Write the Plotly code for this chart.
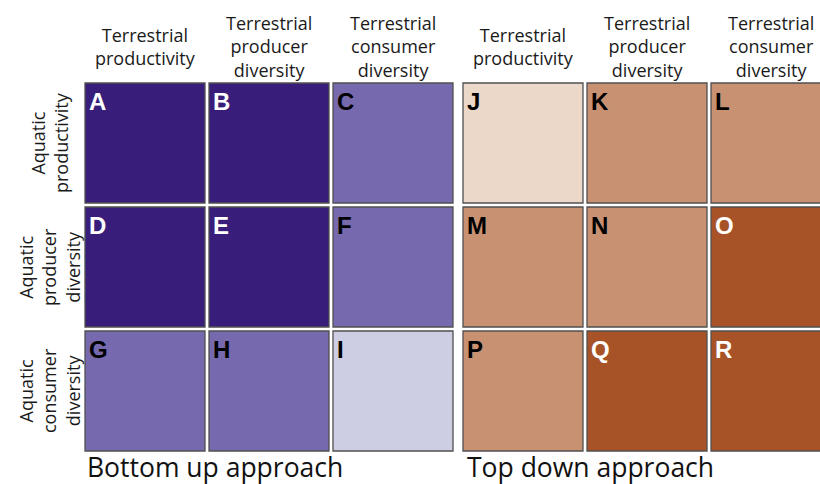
import plotly.graph_objects as go

# ---- data ----
col_labels = ["Terrestrial<br>productivity", "Terrestrial<br>producer<br>diversity", "Terrestrial<br>consumer<br>diversity"]
row_labels = ["Aquatic<br>productivity", "Aquatic<br>producer<br>diversity", "Aquatic<br>consumer<br>diversity"]
# effect strength levels (1 = weak, 2 = medium, 3 = strong); rows top->bottom
bottom_up_levels = [[3, 3, 2],
                    [3, 3, 2],
                    [2, 2, 1]]
top_down_levels = [[1, 2, 2],
                   [2, 2, 3],
                   [2, 3, 3]]
bottom_up_letters = [["A", "B", "C"], ["D", "E", "F"], ["G", "H", "I"]]
top_down_letters = [["J", "K", "L"], ["M", "N", "O"], ["P", "Q", "R"]]
panel_titles = ["Bottom up approach", "Top down approach"]

purple_scale = ["#cdcee3", "#7669ad", "#381e7a"]
brown_scale = ["#ebd8c8", "#c89172", "#a85327"]

W, H = 820, 484
pitch = 124.0
gap = 4
fig = go.Figure()

def scale(cols):
    return [[0, cols[0]], [0.5, cols[1]], [1, cols[2]]]

ytop_px, ybot_px = 81, 453
ydom = [1 - ybot_px / H, 1 - ytop_px / H]

panels = [
    dict(levels=bottom_up_levels, letters=bottom_up_letters, cols=purple_scale, x0=83, xa="x", ya="y", axn="xaxis", ayn="yaxis"),
    dict(levels=top_down_levels, letters=top_down_letters, cols=brown_scale, x0=461, xa="x2", ya="y2", axn="xaxis2", ayn="yaxis2"),
]

for p in panels:
    fig.add_trace(go.Heatmap(
        z=p["levels"], x=[0, 1, 2], y=[0, 1, 2],
        colorscale=scale(p["cols"]), zmin=1, zmax=3, showscale=False,
        xgap=gap, ygap=gap, hoverinfo="skip", xaxis=p["xa"], yaxis=p["ya"]))
    x1px = min(p["x0"] + 3 * pitch, W)
    xr_end = -0.5 + (x1px - p["x0"]) / pitch
    fig.update_layout(**{
        p["axn"]: dict(domain=[p["x0"] / W, x1px / W], range=[-0.5, xr_end], visible=False, fixedrange=True),
        p["ayn"]: dict(domain=ydom, range=[2.5, -0.5], visible=False, fixedrange=True),
    })
    g = (gap / 2) / pitch
    for i in range(3):
        for j in range(3):
            fig.add_shape(type="rect", xref=p["xa"], yref=p["ya"],
                          x0=j - 0.5 + g, x1=j + 0.5 - g, y0=i - 0.5 + g, y1=i + 0.5 - g,
                          line=dict(color="#505050", width=1.3), fillcolor="rgba(0,0,0,0)")
            lvl = p["levels"][i][j]
            fig.add_annotation(x=j - 0.5 + g + 2 / pitch, y=i - 0.5 + g + 3 / pitch,
                               xref=p["xa"], yref=p["ya"], text="<b>%s</b>" % p["letters"][i][j],
                               showarrow=False, xanchor="left", yanchor="top",
                               font=dict(family="Liberation Sans, Arial", size=24,
                                         color="white" if lvl == 3 else "black"))
    for j in range(3):
        fig.add_annotation(x=j, y=1 - 46 / H, xref=p["xa"], yref="paper",
                           text=col_labels[j], showarrow=False, xanchor="center", yanchor="middle",
                           font=dict(family="Open Sans", size=18, color="#1a1a1a"))

for i in range(3):
    fig.add_annotation(x=49 / W, y=i, xref="paper", yref="y", text=row_labels[i],
                       showarrow=False, textangle=-90, xanchor="center", yanchor="middle",
                       font=dict(family="Open Sans", size=18, color="#1a1a1a"))

fig.add_annotation(x=85 / W, y=1 - 466.5 / H, xref="paper", yref="paper", text=panel_titles[0],
                   showarrow=False, xanchor="left", yanchor="middle",
                   font=dict(family="Open Sans", size=26.5, color="#111111"))
fig.add_annotation(x=465 / W, y=1 - 466.5 / H, xref="paper", yref="paper", text=panel_titles[1],
                   showarrow=False, xanchor="left", yanchor="middle",
                   font=dict(family="Open Sans", size=26.5, color="#111111"))

fig.update_layout(width=W, height=H, margin=dict(l=0, r=0, t=0, b=0),
                  paper_bgcolor="white", plot_bgcolor="white", showlegend=False)

fig.write_html("out.html", config={"displayModeBar": False},
               post_script="document.body.style.margin='0';document.body.style.overflow='hidden';")
